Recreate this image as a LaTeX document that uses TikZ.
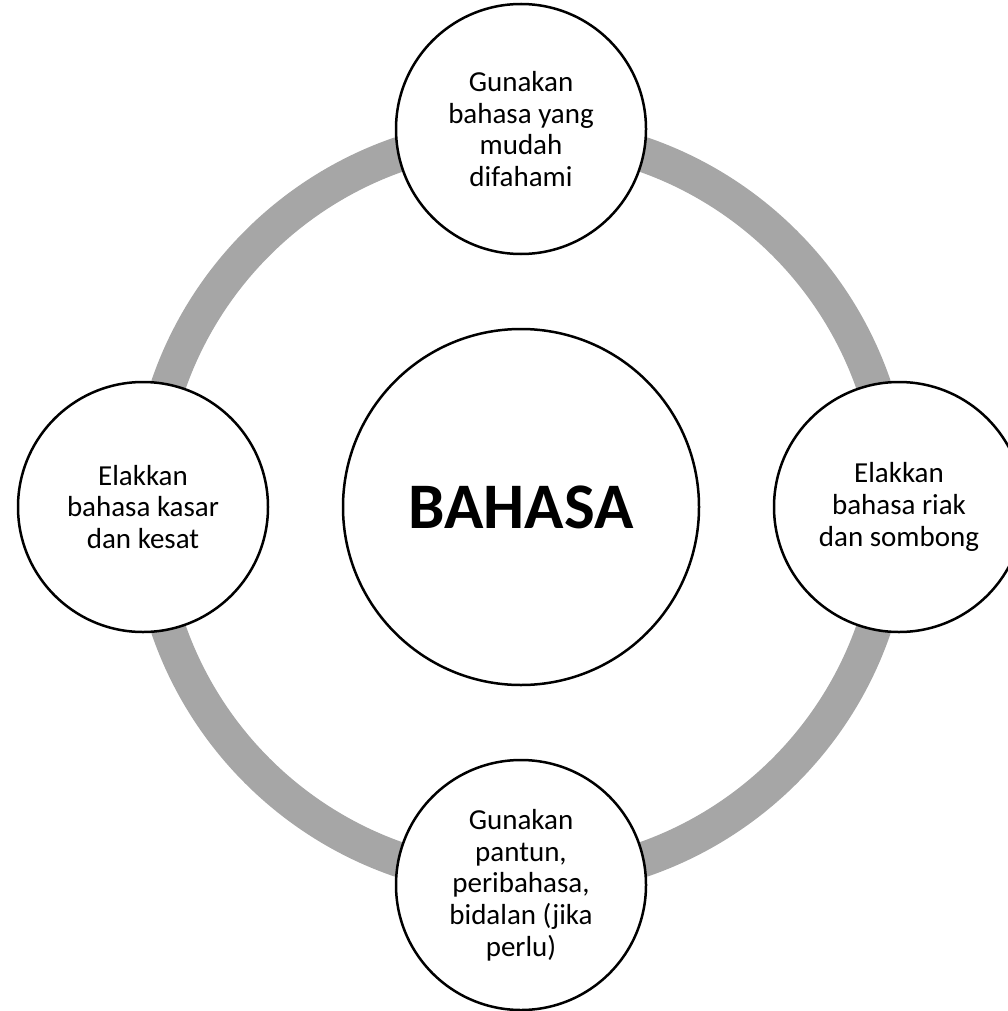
\documentclass[tikz,border=0pt]{standalone}
\usepackage{fontspec}
\setmainfont{Carlito}
\definecolor{ringgray}{HTML}{A6A6A6}
\begin{document}
\begin{tikzpicture}[x=1pt,y=-1pt,
  outer/.style={circle,draw=black,line width=2.5pt,fill=white,minimum size=250pt,inner sep=0pt,align=center,font=\fontsize{29}{31.7}\selectfont},
  centre/.style={circle,draw=black,line width=2.5pt,fill=white,minimum size=356pt,inner sep=0pt,font=\fontsize{65}{70}\selectfont\bfseries},
  ring/.style={draw=ringgray,line width=35pt}]
\useasboundingbox (0,0) rectangle (1008,1011);
\clip (0,0) rectangle (1008,1011);
\coordinate (c) at (521,507);
\draw[ring] (c) circle[radius=373];
\node[centre] (mid) at (c) {BAHASA};
\node[outer] (top) at (521,129) {Gunakan\\bahasa yang\\mudah\\difahami};
\node[outer] (right) at (899,507) {Elakkan\\bahasa riak\\dan sombong};
\node[outer] (bottom) at (521,885) {Gunakan\\pantun,\\peribahasa,\\bidalan (jika\\perlu)};
\node[outer] (left) at (143,507) {Elakkan\\bahasa kasar\\dan kesat};
\end{tikzpicture}
\end{document}
